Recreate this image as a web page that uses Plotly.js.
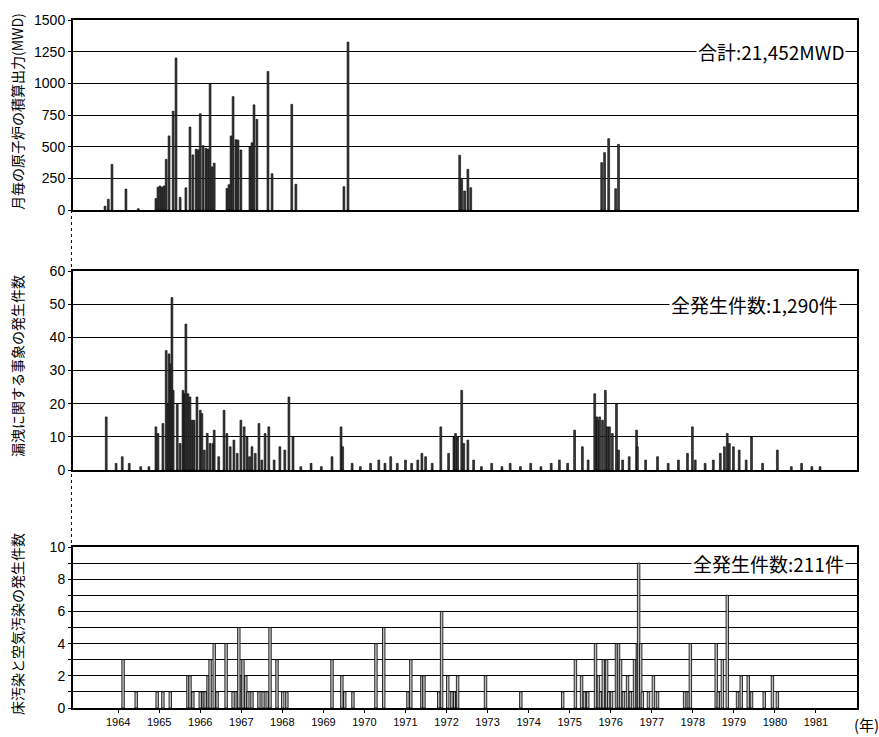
<!DOCTYPE html>
<html>
<head>
<meta charset="utf-8">
<script src="https://cdn.plot.ly/plotly-3.0.1.min.js"></script>
<style>html,body{margin:0;padding:0;background:#fff;}#chart{width:879px;height:737px;}</style>
</head>
<body>
<div id="chart"></div>
<script>
// ---- data ----
const yearTicks = [1964,1965,1966,1967,1968,1969,1970,1971,1972,1973,1974,1975,1976,1977,1978,1979,1980,1981];

// Panel 1: monthly integrated reactor output (MWD)
const mwdYear = [1963.68,1963.76,1963.85,1964.19,1964.49,1964.92,1964.97,1965.02,1965.07,1965.12,1965.17,1965.24,1965.34,1965.41,1965.51,1965.65,1965.75,1965.82,1965.90,1965.95,1966.00,1966.07,1966.14,1966.19,1966.24,1966.29,1966.34,1966.65,1966.70,1966.75,1966.80,1966.87,1966.92,1966.99,1967.21,1967.26,1967.31,1967.38,1967.65,1967.75,1968.23,1968.33,1969.50,1969.60,1972.32,1972.37,1972.44,1972.52,1972.59,1975.78,1975.85,1975.95,1976.12,1976.19];
const mwdValue = [30,85,360,165,10,90,180,190,180,190,400,585,780,1200,100,175,655,435,480,475,760,508,488,480,1000,340,370,170,200,585,895,555,552,474,500,530,830,716,1094,286,834,203,184,1326,432,242,150,321,176,374,453,563,168,518];

// Panel 2: leakage-related events per month
const leakYear = [1963.71,1963.95,1964.10,1964.27,1964.55,1964.75,1964.92,1964.97,1965.09,1965.17,1965.22,1965.24,1965.29,1965.31,1965.34,1965.44,1965.51,1965.58,1965.61,1965.65,1965.70,1965.75,1965.80,1965.85,1965.92,1966.00,1966.04,1966.10,1966.17,1966.24,1966.31,1966.34,1966.45,1966.58,1966.65,1966.73,1966.82,1966.90,1966.99,1967.07,1967.14,1967.20,1967.26,1967.34,1967.43,1967.50,1967.58,1967.67,1967.80,1967.94,1968.06,1968.16,1968.26,1968.45,1968.70,1968.95,1969.21,1969.43,1969.47,1969.70,1969.90,1970.15,1970.35,1970.50,1970.64,1970.80,1971.00,1971.15,1971.30,1971.40,1971.49,1971.65,1971.86,1972.05,1972.18,1972.22,1972.27,1972.37,1972.42,1972.52,1972.66,1972.85,1973.10,1973.35,1973.55,1973.80,1974.05,1974.30,1974.55,1974.75,1974.95,1975.12,1975.31,1975.45,1975.61,1975.66,1975.68,1975.73,1975.80,1975.87,1975.92,1975.97,1976.04,1976.14,1976.19,1976.29,1976.45,1976.63,1976.65,1976.85,1977.14,1977.40,1977.65,1977.87,1977.99,1978.06,1978.30,1978.50,1978.67,1978.77,1978.84,1978.89,1978.99,1979.13,1979.30,1979.43,1979.70,1980.06,1980.40,1980.65,1980.90,1981.10];
const leakValue = [16,2,4,2,1,1,13,11,14,36,20,35,32,52,24,20,8,24,23,44,23,22,15,15,22,18,17,6,11,8,8,12,4,18,11,7,9,5,15,13,10,4,7,5,14,3,11,13,3,7,6,22,10,1,2,1,4,13,7,2,1,2,3,2,4,2,3,2,3,5,4,2,13,5,10,11,10,24,8,9,3,1,2,1,2,1,2,1,2,3,2,12,7,3,23,16,15,16,15,24,13,13,11,20,6,3,4,12,7,3,4,2,3,5,13,3,2,3,5,7,11,8,7,6,3,10,2,6,1,2,1,1];

// Panel 3: floor / air contamination events per month
const contYear = [1964.12,1964.44,1964.95,1965.09,1965.27,1965.70,1965.75,1965.82,1966.00,1966.07,1966.12,1966.19,1966.24,1966.34,1966.41,1966.63,1966.80,1966.90,1966.94,1967.02,1967.04,1967.11,1967.16,1967.26,1967.43,1967.53,1967.63,1967.70,1967.87,1968.01,1968.11,1969.21,1969.45,1969.52,1969.72,1970.28,1970.47,1971.06,1971.13,1971.40,1971.45,1971.81,1971.88,1972.03,1972.13,1972.20,1972.25,1972.27,1972.95,1973.81,1974.83,1975.14,1975.29,1975.36,1975.44,1975.63,1975.70,1975.75,1975.82,1975.90,1975.95,1976.02,1976.14,1976.19,1976.24,1976.31,1976.41,1976.48,1976.58,1976.65,1976.68,1976.73,1976.77,1976.92,1977.04,1977.14,1977.80,1977.89,1977.94,1978.57,1978.62,1978.72,1978.84,1979.09,1979.18,1979.35,1979.43,1979.74,1979.94,1980.06];
const contValue = [3,1,1,1,1,2,2,1,1,1,1,2,3,4,1,4,1,1,5,2,3,2,1,1,1,1,1,5,3,1,1,3,2,1,1,4,5,1,3,2,2,1,6,2,1,1,1,2,2,1,1,3,2,1,1,4,2,1,3,3,1,1,4,4,3,1,2,1,3,4,9,4,1,1,2,1,1,1,4,4,1,3,7,1,2,2,1,1,2,1];

const titleTop = "月毎の原子炉の積算出力(MWD)";
const titleMid = "漏洩に関する事象の発生件数";
const titleBot = "床汚染と空気汚染の発生件数";
const totalTop = "合計:21,452MWD";
const totalMid = "全発生件数:1,290件";
const totalBot = "全発生件数:211件";
const yearUnit = "(年)";

// ---- chart ----
const jp = "Noto Sans CJK JP, sans-serif";
const num = "Liberation Sans, Arial, sans-serif";
const darkBar = {color:'#3a3a3a', line:{color:'#000', width:0.6}};

const traces = [
  {type:'bar', x:mwdYear, y:mwdValue, xaxis:'x3', yaxis:'y3', width:0.045, marker:darkBar, hoverinfo:'x+y'},
  {type:'bar', x:leakYear, y:leakValue, xaxis:'x2', yaxis:'y2', width:0.045, marker:darkBar, hoverinfo:'x+y'},
  {type:'bar', x:contYear, y:contValue, xaxis:'x', yaxis:'y', width:0.06, marker:{color:'#bbb', line:{color:'#000', width:0.8}}, hoverinfo:'x+y'}
];

const xRange = [1962.9, 1982.0];
const xCommon = {range:xRange, showgrid:false, zeroline:false, showline:true, linecolor:'#000', linewidth:2, mirror:true, fixedrange:true};
const yCommon = {showgrid:true, gridcolor:'#000', gridwidth:1, zeroline:false, showline:true, linecolor:'#000', linewidth:2, mirror:true,
  ticks:'outside', ticklen:3, tickcolor:'#000', tickfont:{family:num, size:14, color:'#000'}};

const H = 688, B = 708;
const py = (pix) => (B - pix) / H;

const layout = {
  width:879, height:737,
  margin:{l:73, r:22, t:20, b:29},
  paper_bgcolor:'#fff', plot_bgcolor:'#fff',
  showlegend:false, barmode:'overlay', bargap:0,
  xaxis: Object.assign({}, xCommon, {anchor:'y', tickvals:yearTicks, ticktext:yearTicks.map(String), ticks:'outside', ticklen:3, tickcolor:'#000', tickfont:{family:num, size:11, color:'#000'}}),
  xaxis2: Object.assign({}, xCommon, {anchor:'y2', showticklabels:false, ticks:''}),
  xaxis3: Object.assign({}, xCommon, {anchor:'y3', showticklabels:false, ticks:''}),
  yaxis: Object.assign({}, yCommon, {domain:[0, py(547)], range:[0,10], tickvals:[0,1,2,3,4,5,6,7,8,9,10], ticktext:['0','','2','','4','','6','','8','','10'], anchor:'x'}),
  yaxis2: Object.assign({}, yCommon, {domain:[py(470), py(271)], range:[0,60], dtick:10, anchor:'x2'}),
  yaxis3: Object.assign({}, yCommon, {domain:[py(210), 1], range:[0,1500], dtick:250, anchor:'x3'}),
  annotations:[
    {text:titleTop, xref:'paper', yref:'paper', x:(17-73)/784, y:py(112), textangle:-90, showarrow:false, xanchor:'center', yanchor:'middle', font:{family:jp, size:14, color:'#000'}},
    {text:titleMid, xref:'paper', yref:'paper', x:(17-73)/784, y:py(366), textangle:-90, showarrow:false, xanchor:'center', yanchor:'middle', font:{family:jp, size:14, color:'#000'}},
    {text:titleBot, xref:'paper', yref:'paper', x:(17-73)/784, y:py(624), textangle:-90, showarrow:false, xanchor:'center', yanchor:'middle', font:{family:jp, size:14, color:'#000'}},
    {text:totalTop, xref:'paper', yref:'y3', x:(846-73)/784, y:1250, showarrow:false, xanchor:'right', yanchor:'middle', bgcolor:'#fff', borderpad:1, font:{family:jp, size:19, color:'#000'}},
    {text:totalMid, xref:'paper', yref:'y2', x:(840-73)/784, y:50, showarrow:false, xanchor:'right', yanchor:'middle', bgcolor:'#fff', borderpad:1, font:{family:jp, size:19, color:'#000'}},
    {text:totalBot, xref:'paper', yref:'y', x:(846-73)/784, y:9, showarrow:false, xanchor:'right', yanchor:'middle', bgcolor:'#fff', borderpad:1, font:{family:jp, size:19, color:'#000'}},
    {text:yearUnit, xref:'paper', yref:'paper', x:(866-73)/784, y:py(724), showarrow:false, xanchor:'center', yanchor:'middle', font:{family:jp, size:15, color:'#000'}}
  ],
  shapes:[
    {type:'line', xref:'paper', yref:'paper', x0:-0.002, x1:-0.002, y0:py(210), y1:py(547), line:{color:'#000', width:1, dash:'dot'}, layer:'below'}
  ]
};

Plotly.newPlot('chart', traces, layout, {staticPlot:true, displayModeBar:false});
</script>
</body>
</html>
